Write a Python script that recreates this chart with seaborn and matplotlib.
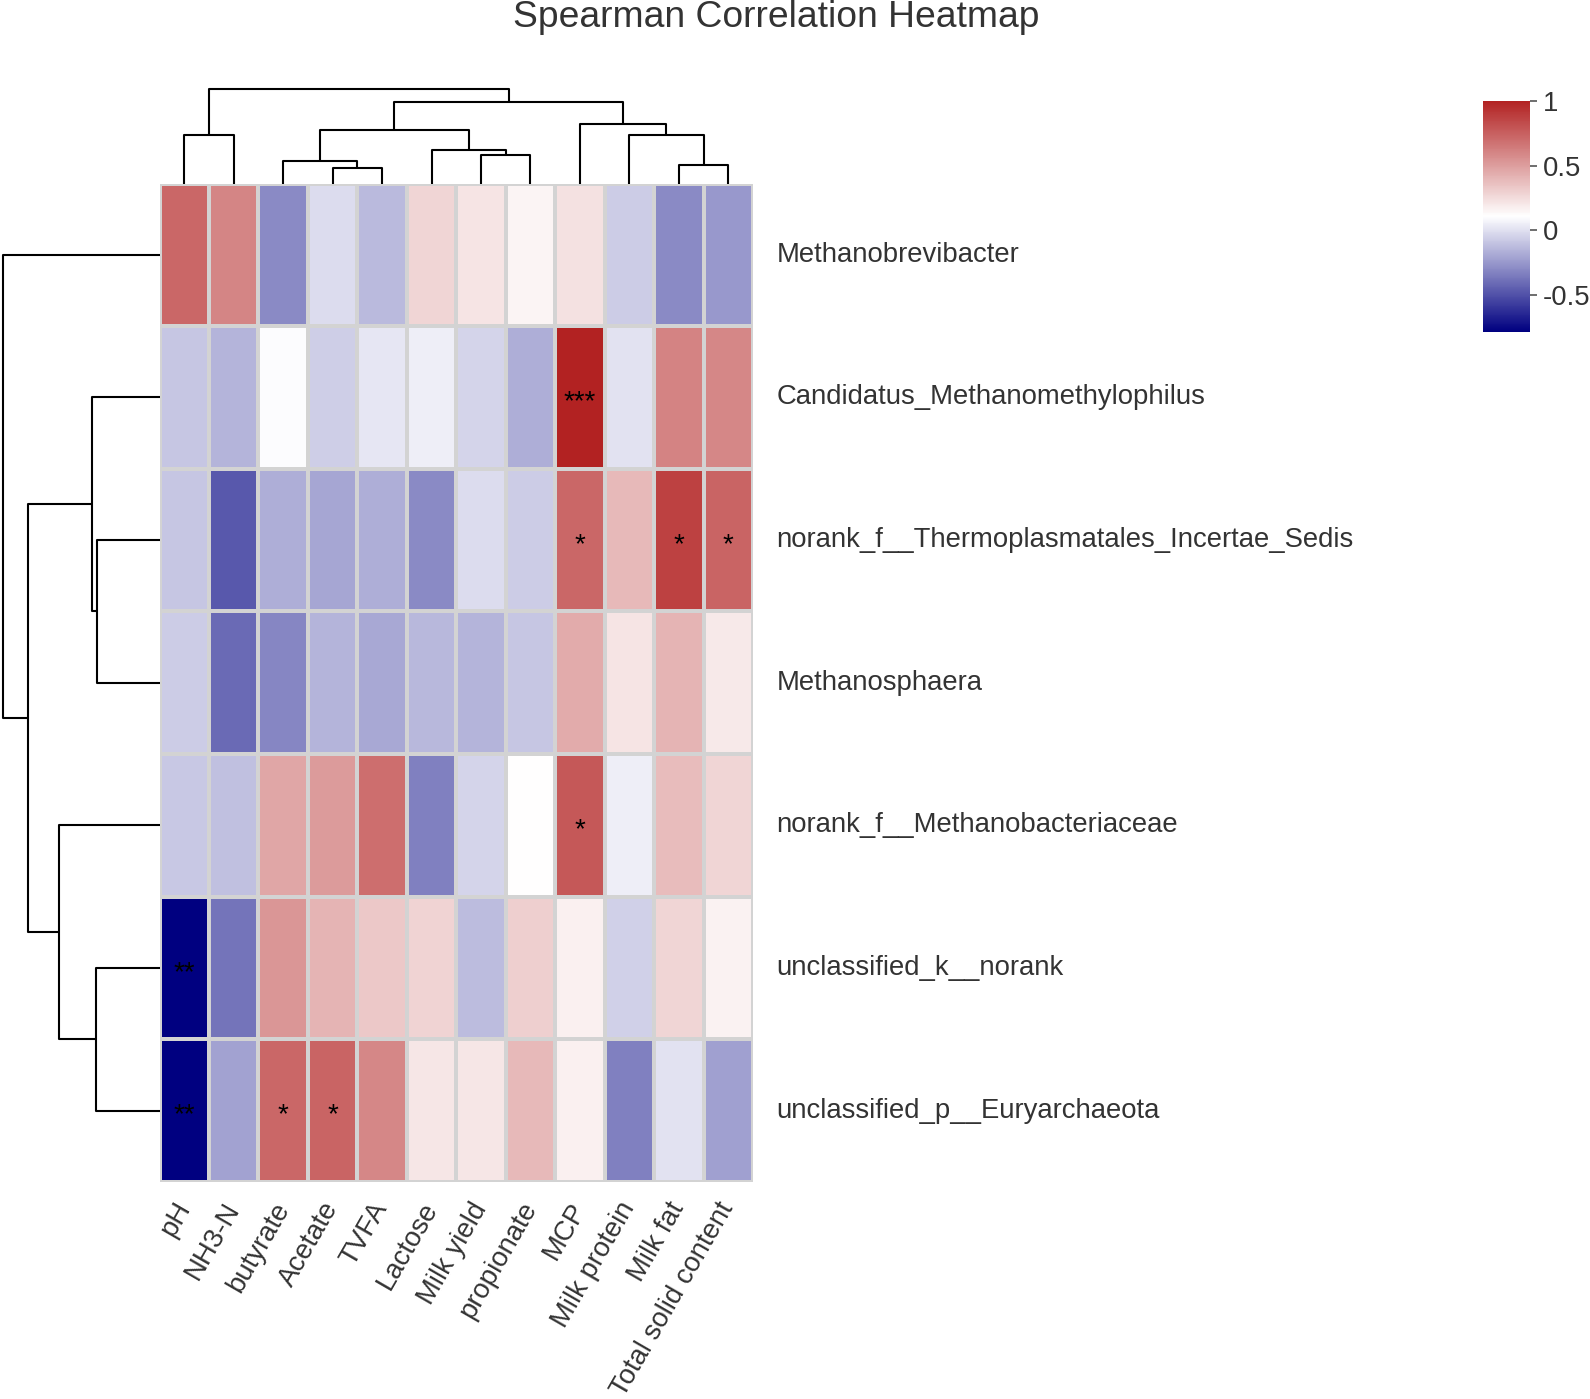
import numpy as np
import pandas as pd
import matplotlib
matplotlib.use("Agg")
import matplotlib.pyplot as plt
from matplotlib.colors import LinearSegmentedColormap
from matplotlib import transforms
import seaborn as sns

# ---------------- data ----------------
row_names = ["Methanobrevibacter",
             "Candidatus_Methanomethylophilus",
             "norank_f__Thermoplasmatales_Incertae_Sedis",
             "Methanosphaera",
             "norank_f__Methanobacteriaceae",
             "unclassified_k__norank",
             "unclassified_p__Euryarchaeota"]
col_names = ["pH", "NH3-N", "butyrate", "Acetate", "TVFA", "Lactose",
             "Milk yield", "propionate", "MCP", "Milk protein", "Milk fat",
             "Total solid content"]

rho_methanobrevibacter = [0.72, 0.60, -0.30, -0.01, -0.13, 0.28, 0.22, 0.155, 0.235, -0.07, -0.30, -0.25]
rho_candidatus = [-0.09, -0.15, 0.10, -0.06, 0.02, 0.05, -0.04, -0.17, 1.00, 0.01, 0.61, 0.59]
rho_thermoplasmatales = [-0.09, -0.47, -0.17, -0.20, -0.17, -0.30, -0.01, -0.07, 0.72, 0.39, 0.87, 0.73]
rho_methanosphaera = [-0.07, -0.41, -0.31, -0.15, -0.19, -0.14, -0.15, -0.09, 0.45, 0.22, 0.41, 0.20]
rho_methanobacteriaceae = [-0.08, -0.11, 0.47, 0.51, 0.69, -0.33, -0.04, 0.11, 0.78, 0.05, 0.38, 0.28]
rho_k_norank = [-0.78, -0.37, 0.53, 0.41, 0.33, 0.29, -0.12, 0.30, 0.17, -0.05, 0.28, 0.16]
rho_euryarchaeota = [-0.78, -0.21, 0.72, 0.73, 0.59, 0.21, 0.21, 0.39, 0.17, -0.33, 0.01, -0.22]

sig_methanobrevibacter = ["", "", "", "", "", "", "", "", "", "", "", ""]
sig_candidatus = ["", "", "", "", "", "", "", "", "***", "", "", ""]
sig_thermoplasmatales = ["", "", "", "", "", "", "", "", "*", "", "*", "*"]
sig_methanosphaera = ["", "", "", "", "", "", "", "", "", "", "", ""]
sig_methanobacteriaceae = ["", "", "", "", "", "", "", "", "*", "", "", ""]
sig_k_norank = ["**", "", "", "", "", "", "", "", "", "", "", ""]
sig_euryarchaeota = ["**", "", "*", "*", "", "", "", "", "", "", "", ""]

# dendrogram merges: (node_a, node_b, height); leaves are display positions
col_merges = [(3, 4, 0.165), (10, 11, 0.20), (2, 12, 0.24), (6, 7, 0.30),
              (5, 15, 0.356), (0, 1, 0.513), (9, 13, 0.51), (14, 16, 0.57),
              (8, 18, 0.632), (19, 20, 0.864), (17, 21, 1.0)]
row_merges = [(2, 3, 0.40), (5, 6, 0.404), (1, 7, 0.433), (4, 8, 0.643),
              (9, 10, 0.84), (0, 11, 1.0)]

cbar_ticks = [-0.5, 0, 0.5, 1]
cbar_ticklabels = ["-0.5", "0", "0.5", "1"]

# ---------------- build ----------------
df = pd.DataFrame([rho_methanobrevibacter, rho_candidatus, rho_thermoplasmatales,
                   rho_methanosphaera, rho_methanobacteriaceae, rho_k_norank,
                   rho_euryarchaeota], index=row_names, columns=col_names)
sig = [sig_methanobrevibacter, sig_candidatus, sig_thermoplasmatales,
       sig_methanosphaera, sig_methanobacteriaceae, sig_k_norank, sig_euryarchaeota]

sns.set_theme(style="white")
plt.rcParams["font.family"] = ["Liberation Sans", "DejaVu Sans"]
TXT = "#333333"

W, H = 1590, 1399
fig = plt.figure(figsize=(W / 100, H / 100), dpi=100)

def fig_rect(x0, y0, x1, y1):
    return [x0 / W, 1 - y1 / H, (x1 - x0) / W, (y1 - y0) / H]

hm_l, hm_r, hm_t, hm_b = 159.5, 753, 183.5, 1182
ax = fig.add_axes(fig_rect(hm_l, hm_t, hm_r, hm_b))
ax_col = fig.add_axes(fig_rect(hm_l, 89, hm_r, hm_t))
ax_row = fig.add_axes(fig_rect(3, hm_t, hm_l, hm_b))
cax = fig.add_axes(fig_rect(1483, 100.7, 1530, 331.7))

cmap = LinearSegmentedColormap.from_list("nwf", ["#000080", "#FFFFFF", "#B22222"], N=256)
vmin, vmax = float(df.values.min()), float(df.values.max())

sns.heatmap(df, ax=ax, cmap=cmap, vmin=vmin, vmax=vmax, linewidths=1.5,
            linecolor="#D3D3D3", cbar=True, cbar_ax=cax,
            cbar_kws={"ticks": cbar_ticks})

# stars
star_tr = transforms.offset_copy(ax.transData, fig=fig, x=0, y=-3.5, units="points")
for i, r in enumerate(sig):
    for j, s in enumerate(r):
        if s:
            ax.text(j + 0.5, i + 0.5, s, ha="center", va="center", fontsize=20,
                    color="black", transform=star_tr)

# row labels on right
ax.yaxis.tick_right()
ax.set_yticks(np.arange(len(row_names)) + 0.5)
ax.set_yticklabels(row_names, rotation=0, fontsize=19.8, color=TXT, va="center")
ax.tick_params(axis="y", length=0, pad=17)
# column labels
ax.set_xticks(np.arange(len(col_names)) + 0.5)
ax.set_xticklabels(col_names, rotation=60, ha="right", va="center",
                   rotation_mode="anchor", fontsize=19.8, color=TXT)
ax.tick_params(axis="x", length=0, pad=16)
ax.set_xlabel("")
ax.set_ylabel("")

# colorbar
cbar = ax.collections[0].colorbar
cbar.outline.set_visible(False)
cbar.set_ticks(cbar_ticks)
cbar.set_ticklabels(cbar_ticklabels)
cax.tick_params(axis="y", length=5, width=1.2, color="#555555", labelsize=19.8,
                labelcolor=TXT, pad=4, right=True)

# dendrograms
def draw_dendro(a, merges, n, orient):
    pos = {i: i + 0.5 for i in range(n)}
    hgt = {i: 0.0 for i in range(n)}
    for k, (p, q, h) in enumerate(merges):
        xs = [pos[p], pos[p], pos[q], pos[q]]
        ys = [hgt[p], h, h, hgt[q]]
        if orient == "top":
            a.plot(xs, ys, color="black", lw=1.5, clip_on=False, solid_capstyle="butt")
        else:
            a.plot(ys, xs, color="black", lw=1.5, clip_on=False, solid_capstyle="butt")
        pos[n + k] = (pos[p] + pos[q]) / 2
        hgt[n + k] = h

draw_dendro(ax_col, col_merges, len(col_names), "top")
ax_col.set_xlim(0, len(col_names))
ax_col.set_ylim(0, 1.0)
draw_dendro(ax_row, row_merges, len(row_names), "left")
ax_row.set_ylim(len(row_names), 0)
ax_row.set_xlim(1.0, 0)
for a in (ax_col, ax_row):
    a.axis("off")

fig.text(776 / W, 1 - 27 / H, "Spearman Correlation Heatmap", ha="center",
         va="baseline", fontsize=26.8, color=TXT)

fig.savefig("out.png", dpi=100)
